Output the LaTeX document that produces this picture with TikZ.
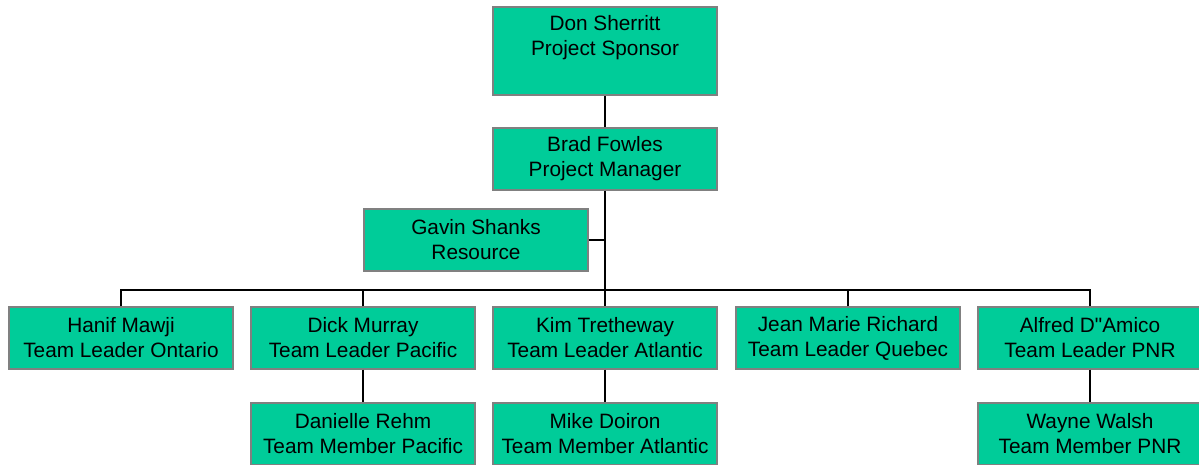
\documentclass[tikz,border=0pt]{standalone}
\usepackage{fontspec}
\setmainfont{Liberation Sans}[Ligatures=TeXOff]
\usepackage{tikz}
\definecolor{teamgreen}{RGB}{0,204,153}
\definecolor{boxgray}{RGB}{128,128,128}

\begin{document}
\begin{tikzpicture}[x=0.75pt,y=-0.75pt,
  box/.style={draw=boxgray, line width=0.9pt, fill=teamgreen, minimum width=168pt, minimum height=46.5pt, align=center, inner sep=0pt, font=\fontsize{15.6pt}{18.75pt}\selectfont},
  link/.style={draw=black, line width=0.8pt}]
\useasboundingbox (0,0) rectangle (1199,464);
\clip (0,0) rectangle (1199,464);

\node [box, minimum height=66pt] (don) at (605,51) {};
\node [align=center, inner sep=0pt, font=\fontsize{15.6pt}{18.75pt}\selectfont] (donlbl) at (605,38) {Don Sherritt\\Project Sponsor};
\node [box] (brad) at (605,159) {Brad Fowles\\Project Manager};
\node [box] (gavin) at (476,240) {Gavin Shanks\\Resource};

\node [box] (hanif) at (121,338) {Hanif Mawji\\Team Leader Ontario};
\node [box] (dick) at (363,338) {Dick Murray\\Team Leader Pacific};
\node [box] (kim) at (605,338) {Kim Tretheway\\Team Leader Atlantic};
\node [box] (jean) at (848,338) {Jean Marie Richard\\Team Leader Quebec};
\node [box] (alfred) at (1090,338) {Alfred D"Amico\\Team Leader PNR};

\node [box] (danielle) at (363,434) {Danielle Rehm\\Team Member Pacific};
\node [box] (mike) at (605,434) {Mike Doiron\\Team Member Atlantic};
\node [box] (wayne) at (1090,434) {Wayne Walsh\\Team Member PNR};

\coordinate (bus) at (605,290);

\draw [link] (don) -- (brad);
\draw [link] (brad) -- (kim);
\draw [link] (gavin.east) -- (gavin.east -| brad.south);
\draw [link] (hanif.north) -- (hanif.north |- bus) -- (alfred.north |- bus) -- (alfred.north);
\foreach \n in {dick,jean}
  \draw [link] (\n.north) -- (\n.north |- bus);

\draw [link] (dick) -- (danielle);
\draw [link] (kim) -- (mike);
\draw [link] (alfred) -- (wayne);

\end{tikzpicture}
\end{document}
